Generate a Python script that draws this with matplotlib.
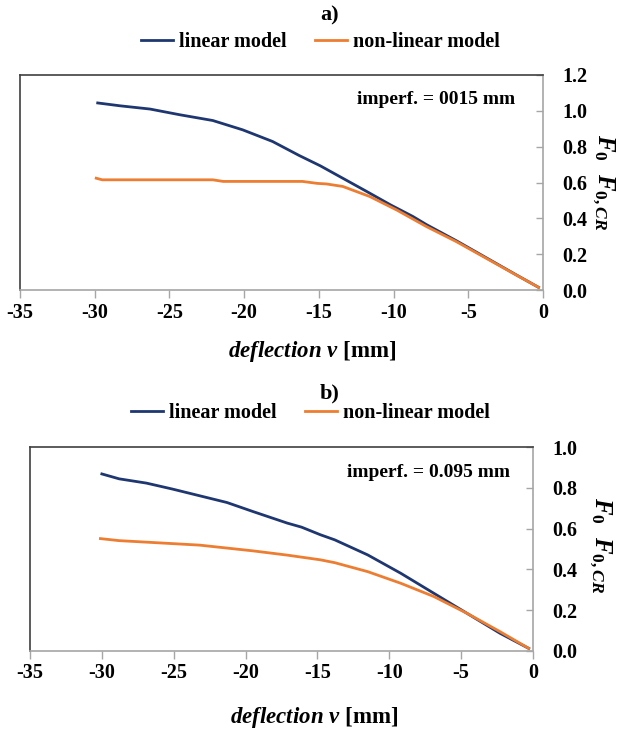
import matplotlib.pyplot as plt

plt.rcParams['font.family'] = 'Liberation Serif'
plt.rcParams['font.weight'] = 'bold'
plt.rcParams['mathtext.fontset'] = 'custom'
plt.rcParams['mathtext.it'] = 'Liberation Serif:italic:bold'
plt.rcParams['mathtext.rm'] = 'Liberation Serif:bold'
plt.rcParams['mathtext.bf'] = 'Liberation Serif:bold'

# panel a) imperf. = 0015 mm
a_lin_x = [-29.8, -28.3, -26.3, -24.3, -22.1, -20.1, -18.1, -16.3, -14.9, -13.6,
           -11.8, -10.2, -8.7, -7.8, -5.8, -3.8, -1.8, -0.3]
a_lin_y = [1.044, 1.028, 1.010, 0.978, 0.946, 0.894, 0.829, 0.750, 0.693, 0.633,
           0.550, 0.475, 0.410, 0.365, 0.275, 0.180, 0.085, 0.015]
a_nl_x = [-29.9, -29.5, -22.1, -21.4, -16.1, -15.1, -14.5, -13.4, -11.6, -9.8,
          -7.8, -5.8, -3.8, -1.8, -0.3]
a_nl_y = [0.624, 0.615, 0.615, 0.606, 0.606, 0.595, 0.592, 0.578, 0.522, 0.447,
          0.354, 0.270, 0.177, 0.084, 0.015]

# panel b) imperf. = 0.095 mm
b_lin_x = [-30.0, -28.8, -26.9, -25.1, -23.2, -21.3, -19.5, -17.1, -16.1, -14.8,
           -13.8, -11.5, -9.2, -6.9, -4.6, -2.3, -0.3]
b_lin_y = [0.868, 0.844, 0.823, 0.794, 0.761, 0.728, 0.684, 0.627, 0.607, 0.570,
           0.545, 0.471, 0.381, 0.283, 0.185, 0.087, 0.013]
b_nl_x = [-30.1, -28.8, -26.5, -23.2, -19.5, -17.1, -16.1, -14.8, -13.8, -11.5,
          -9.2, -6.9, -4.6, -2.3, -0.3]
b_nl_y = [0.551, 0.541, 0.532, 0.519, 0.491, 0.470, 0.460, 0.447, 0.433, 0.389,
          0.332, 0.267, 0.185, 0.095, 0.013]

xticks = [-35, -30, -25, -20, -15, -10, -5, 0]
lin_color = '#1f3770'
nl_color = '#ed7d31'

W, H = 629, 732
fig = plt.figure(figsize=(W / 100, H / 100), dpi=100)


def px(l, t, r, b):
    return [l / W, 1 - b / H, (r - l) / W, (b - t) / H]


def style(ax, ymax, yticks, ytl):
    ax.set_xlim(-35, 0)
    ax.set_ylim(0, ymax)
    ax.set_xticks(xticks)
    ax.set_xticklabels([str(v) for v in xticks])
    ax.set_yticks(yticks)
    ax.set_yticklabels(ytl)
    ax.yaxis.tick_right()
    ax.spines['left'].set_color('#404040')
    ax.spines['top'].set_color('#404040')
    ax.spines['right'].set_color('#a6a6a6')
    ax.spines['bottom'].set_color('#a6a6a6')
    for s in ax.spines.values():
        s.set_linewidth(1.2)
    ax.tick_params(axis='x', direction='out', length=6, width=1, color='#a6a6a6',
                   labelsize=14.5, pad=3)
    ax.tick_params(axis='y', direction='in', length=5, width=1, color='#a6a6a6',
                   labelsize=14.5, pad=14)
    for lbl in ax.get_xticklabels() + ax.get_yticklabels():
        lbl.set_fontweight('bold')


# ---- panel a
ax1 = fig.add_axes(px(20, 75, 543, 290))
ax1.plot(a_lin_x, a_lin_y, color=lin_color, lw=2.0, label='linear model')
ax1.plot(a_nl_x, a_nl_y, color=nl_color, lw=2.0, label='non-linear model')
style(ax1, 1.2, [0, 0.2, 0.4, 0.6, 0.8, 1.0, 1.2],
      ['0.0', '0.2', '0.4', '0.6', '0.8', '1.0', '1.2'])
ax1.text(0.946, 0.884, 'imperf. = 0015 mm', transform=ax1.transAxes,
         ha='right', va='center', fontsize=14, fontweight='bold')
ax1.legend(loc='center', bbox_to_anchor=(0.574, 1.153), ncol=2, frameon=False,
           handlelength=1.6, handletextpad=0.3, columnspacing=1.4,
           prop={'weight': 'bold', 'size': 14.5})

# ---- panel b
ax2 = fig.add_axes(px(30, 447, 533, 651))
ax2.plot(b_lin_x, b_lin_y, color=lin_color, lw=2.0, label='linear model')
ax2.plot(b_nl_x, b_nl_y, color=nl_color, lw=2.0, label='non-linear model')
style(ax2, 1.0, [0, 0.2, 0.4, 0.6, 0.8, 1.0],
      ['0.0', '0.2', '0.4', '0.6', '0.8', '1.0'])
ax2.text(0.954, 0.877, 'imperf. = 0.095 mm', transform=ax2.transAxes,
         ha='right', va='center', fontsize=14, fontweight='bold')
ax2.legend(loc='center', bbox_to_anchor=(0.557, 1.167), ncol=2, frameon=False,
           handlelength=1.6, handletextpad=0.3, columnspacing=1.4,
           prop={'weight': 'bold', 'size': 14.5})

# titles, axis labels
fig.text(330 / W, 1 - 15 / H, 'a)', ha='center', va='center', fontsize=16, fontweight='bold')
fig.text(330 / W, 1 - 393 / H, 'b)', ha='center', va='center', fontsize=16, fontweight='bold')
xlab = r'$\mathit{deflection\ v}$ [mm]'
fig.text(312 / W, 1 - 352 / H, xlab, ha='center', va='center', fontsize=16.5, fontweight='bold')
fig.text(314 / W, 1 - 717 / H, xlab, ha='center', va='center', fontsize=16.5, fontweight='bold')
ylab = r'$F_{0}\ \ F_{0,CR}$'
fig.text(603 / W, 1 - 182 / H, ylab, rotation=270, ha='center', va='center', fontsize=18)
fig.text(600 / W, 1 - 545 / H, ylab, rotation=270, ha='center', va='center', fontsize=18)

fig.savefig('out.png', dpi=100)
